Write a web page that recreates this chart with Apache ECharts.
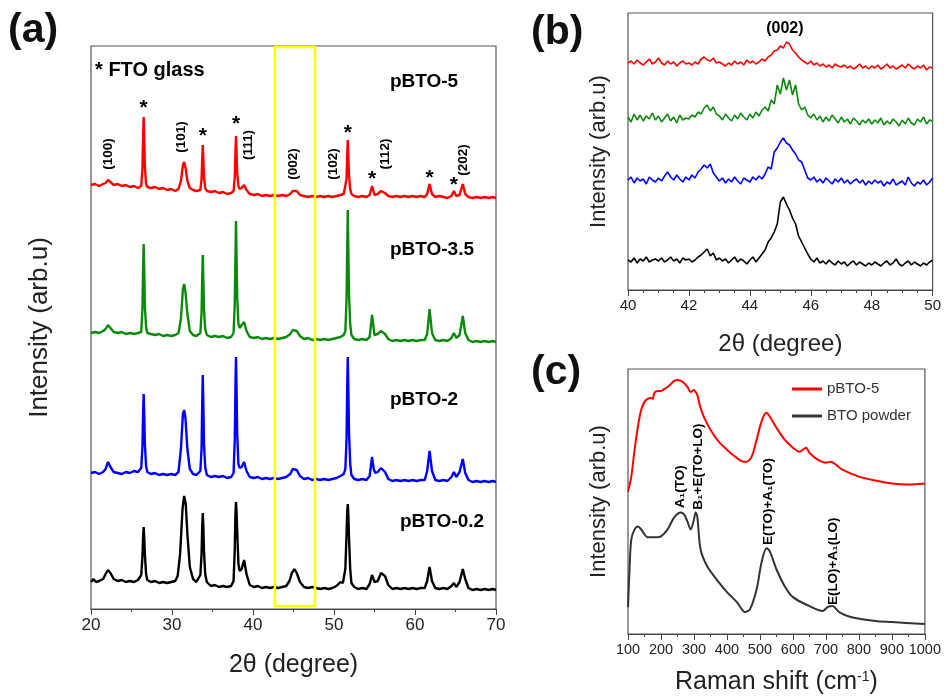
<!DOCTYPE html>
<html><head><meta charset="utf-8">
<script src="https://cdn.jsdelivr.net/npm/echarts/dist/echarts.min.js"></script>
<style>html,body{margin:0;padding:0;background:#fff}#c{width:944px;height:696px}</style>
</head><body><div id="c"></div><script>
// ---------- Panel (a): XRD patterns (offset stacked, arb. units) ----------
const xrdRed = [[20,424],[20.5,425],[21,423],[21.5,425],[21.8,426],[22.1,429],[22.4,427],[22.8,424],[23.3,425],[23.8,423],[24.3,424],[24.8,422],[25.3,423],[25.8,421],
[26.2,423],[26.35,440],[26.43,471],[26.5,492],[26.57,471],[26.65,442],[26.8,425],[26.95,422],
[27.4,421],[27.9,422],[28.4,420],[28.9,421],[29.4,419],[29.9,420],[30.4,418],[30.8,420],[31.1,428],[31.35,444],[31.5,447],[31.7,440],[31.9,428],[32.2,421],[32.6,419],[33.0,418],
[33.5,419],[33.65,430],[33.73,450],[33.8,464],[33.87,450],[33.95,432],[34.1,421],[34.3,418],
[34.8,417],[35.3,418],[35.8,416],[36.3,417],[36.8,415],[37.3,416],
[37.6,418],[37.75,432],[37.83,456],[37.9,473],[37.97,456],[38.05,436],[38.2,423],[38.35,420],
[38.6,421],[38.9,424],[39.2,419],[39.6,415],[40.1,414],[40.6,415],[41.1,413],[41.6,414],[42.1,413],[42.6,414],[43.1,413],[43.6,414],[44.1,413],[44.6,415],[44.9,418],[45.1,420],[45.4,418],[45.8,414],[46.3,413],[46.8,412],[47.3,413],[47.8,412],[48.3,413],[48.8,412],[49.3,413],[49.8,412],[50.3,413],[50.8,414],[51.2,415],
[51.4,416],[51.55,430],[51.63,452],[51.7,469],[51.77,452],[51.85,434],[52.0,420],[52.15,415],
[52.5,413],[53.0,412],[53.5,413],[54.0,412],[54.4,414],[54.7,423],[55.0,414],[55.4,415],[55.8,418],[56.0,419],[56.3,416],[56.7,413],[57.2,412],[57.7,413],[58.2,412],[58.7,413],[59.2,412],[59.7,413],[60.2,412],[60.7,413],[61.2,412],[61.5,415],[61.8,425],[62.1,415],[62.5,412],[63,413],[63.5,412],[64,411],[64.5,413],[64.8,418],[65.1,413],[65.5,414],[65.9,425],[66.2,415],[66.6,412],[67.1,411],[67.6,412],[68.1,411],[68.6,412],[69.1,411],[69.6,412],[70,411]];
const xrdGreen = [[20,276],[20.5,277],[21,276],[21.5,278],[21.8,280],[22.1,284],[22.4,281],[22.8,277],[23.3,276],[23.8,277],[24.3,275],[24.8,276],[25.3,275],[25.8,276],
[26.2,277],[26.35,300],[26.43,340],[26.5,365],[26.57,340],[26.65,303],[26.8,282],[26.95,276],
[27.4,275],[27.9,274],[28.4,275],[28.9,273],[29.4,274],[29.9,273],[30.4,274],[30.8,276],[31.1,290],[31.35,320],[31.5,325],[31.65,318],[31.9,295],[32.2,278],[32.6,274],[33.0,273],
[33.5,276],[33.65,296],[33.73,330],[33.8,354],[33.87,330],[33.95,300],[34.1,280],[34.3,274],
[34.8,272],[35.3,273],[35.8,272],[36.3,273],[36.8,271],[37.3,272],
[37.6,276],[37.75,305],[37.83,352],[37.9,388],[37.97,352],[38.05,312],[38.2,285],[38.35,281],
[38.6,284],[38.9,287],[39.2,278],[39.6,272],[40.1,271],[40.6,272],[41.1,270],[41.6,271],[42.1,270],[42.6,271],[43.1,270],[43.6,271],[44.1,272],[44.6,275],[44.9,279],[45.1,281],[45.4,278],[45.8,273],[46.3,270],[46.8,271],[47.3,269],[47.8,270],[48.3,269],[48.8,270],[49.3,269],[49.8,270],[50.3,271],[50.8,272],[51.2,274],
[51.4,278],[51.55,310],[51.63,360],[51.7,399],[51.77,360],[51.85,315],[52.0,285],[52.15,274],
[52.5,270],[53.0,269],[53.5,270],[54.0,269],[54.4,272],[54.7,294],[55.0,274],[55.4,275],[55.8,278],[56.0,279],[56.3,275],[56.7,270],[57.2,268],[57.7,269],[58.2,268],[58.7,269],[59.2,268],[59.7,269],[60.2,268],[60.7,269],[61.2,269],[61.5,275],[61.8,300],[62.1,276],[62.5,269],[63,268],[63.5,269],[64,268],[64.5,271],[64.8,276],[65.1,271],[65.5,274],[65.9,293],[66.2,276],[66.6,269],[67.1,267],[67.6,268],[68.1,267],[68.6,268],[69.1,267],[69.6,268],[70,267]];
const xrdBlue = [[20,136],[20.5,137],[21,135],[21.5,137],[21.8,140],[22.1,147],[22.4,142],[22.8,137],[23.3,136],[23.8,135],[24.3,137],[24.8,136],[25.3,138],[25.8,137],
[26.2,141],[26.35,162],[26.43,195],[26.5,215],[26.57,195],[26.65,165],[26.8,143],[26.95,137],
[27.4,135],[27.9,136],[28.4,134],[28.9,135],[29.4,134],[29.9,135],[30.4,134],[30.8,137],[31.1,160],[31.35,195],[31.5,199],[31.65,192],[31.9,160],[32.2,140],[32.6,135],[33.0,134],
[33.5,138],[33.65,160],[33.73,205],[33.8,234],[33.87,205],[33.95,165],[34.1,142],[34.3,134],
[34.8,132],[35.3,133],[35.8,132],[36.3,133],[36.8,131],[37.3,132],
[37.6,136],[37.75,170],[37.83,220],[37.9,252],[37.97,220],[38.05,175],[38.2,145],[38.35,141],
[38.6,142],[38.9,147],[39.2,138],[39.6,132],[40.1,131],[40.6,132],[41.1,130],[41.6,131],[42.1,130],[42.6,131],[43.1,130],[43.6,131],[44.1,132],[44.6,135],[44.9,140],[45.1,142],[45.4,139],[45.8,133],[46.3,130],[46.8,131],[47.3,129],[47.8,130],[48.3,129],[48.8,130],[49.3,129],[49.8,130],[50.3,131],[50.8,133],[51.2,135],
[51.4,140],[51.55,170],[51.63,220],[51.7,252],[51.77,220],[51.85,178],[52.0,145],[52.15,134],
[52.5,130],[53.0,129],[53.5,130],[54.0,129],[54.4,133],[54.7,152],[54.9,140],[55.1,136],[55.4,137],[55.8,141],[56.0,142],[56.3,137],[56.7,130],[57.2,128],[57.7,129],[58.2,128],[58.7,129],[59.2,128],[59.7,129],[60.2,128],[60.7,129],[61.2,129],[61.5,138],[61.8,158],[62.1,138],[62.5,129],[63,128],[63.5,129],[64,128],[64.5,132],[64.8,137],[65.1,132],[65.5,137],[65.9,150],[66.2,136],[66.6,129],[67.1,127],[67.6,128],[68.1,127],[68.6,128],[69.1,127],[69.6,128],[70,127]];
const xrdBlack = [[20,27],[20.3,30],[20.6,27],[21,28],[21.5,30],[21.8,35],[22.1,39],[22.4,36],[22.8,30],[23.3,28],[23.8,29],[24.3,27],[24.8,28],[25.3,27],[25.8,29],
[26.2,34],[26.35,52],[26.43,72],[26.5,82],[26.57,72],[26.65,55],[26.8,35],[26.95,29],
[27.4,27],[27.9,28],[28.4,26],[28.9,27],[29.4,26],[29.9,27],[30.4,28],[30.7,33],[31.0,55],[31.3,100],[31.5,113],[31.7,105],[31.9,75],[32.2,42],[32.6,30],[33.0,27],
[33.5,34],[33.65,55],[33.73,82],[33.8,96],[33.87,82],[33.95,58],[34.1,35],[34.3,27],
[34.8,23],[35.3,24],[35.8,22],[36.3,23],[36.8,22],[37.3,23],
[37.6,28],[37.75,60],[37.83,95],[37.9,107],[37.97,98],[38.05,78],[38.2,45],[38.35,38],
[38.6,40],[38.9,49],[39.2,35],[39.6,24],[40.1,22],[40.6,23],[41.1,21],[41.6,22],[42.1,21],[42.6,22],[43.1,21],[43.6,22],[44.1,23],[44.5,28],[44.8,36],[45.1,40],[45.4,36],[45.8,27],[46.3,22],[46.8,21],[47.3,22],[47.8,21],[48.3,20],[48.8,21],[49.3,20],[49.8,21],[50.3,23],[50.8,27],[51.1,26],
[51.4,40],[51.55,75],[51.63,97],[51.7,105],[51.77,95],[51.85,72],[52.0,40],[52.15,26],
[52.5,22],[53.0,20],[53.5,21],[54.0,20],[54.4,25],[54.7,34],[55.0,27],[55.4,28],[55.8,36],[56.0,38],[56.3,33],[56.7,24],[57.2,20],[57.7,21],[58.2,20],[58.7,21],[59.2,20],[59.7,21],[60.2,20],[60.7,21],[61.2,21],[61.5,28],[61.8,42],[62.1,28],[62.5,21],[63,20],[63.5,21],[64,20],[64.5,23],[64.8,26],[65.1,22],[65.5,27],[65.9,40],[66.2,30],[66.6,21],[67.1,19],[67.6,20],[68.1,19],[68.6,20],[69.1,19],[69.6,20],[70,19]];
const zoomBox = [42.7, 47.65];
const starPeaks = [[26.5,507],[33.8,479],[37.9,491],[51.7,482],[54.7,436],[61.8,437],[64.8,430]];
const millerLabels = [['(100)',22.1,455],['(101)',31.2,472],['(111)',39.4,464],['(002)',44.95,445],['(102)',49.9,445],['(112)',56.3,455],['(202)',65.9,449]];
const sampleLabels = [['pBTO-5',56.9,527],['pBTO-3.5',56.9,359],['pBTO-2',56.9,209],['pBTO-0.2',58.15,87]];
const noteLabel = [['* FTO glass',20.5,539]];

// ---------- Panel (b): (002) region, sampled every 0.1 degree from 40 to 50 ----------
const zoomStart = 40, zoomStep = 0.1;
const zRed = [227,229,226,230,227,225,228,231,226,228, 232,227,225,229,226,228,224,227,229,226, 227,225,228,226,231,233,230,229,232,227, 228,226,224,227,225,229,226,228,225,230, 227,229,226,228,231,229,233,235,239,240, 244,242,248,246,240,237,233,230,228,226, 229,225,227,224,226,223,225,222,226,224, 223,225,222,224,221,223,226,222,224,221, 224,222,225,221,223,226,222,224,221,223, 225,222,226,223,221,224,222,225,220,223, 222];
const zGreen = [173,168,176,170,175,169,174,171,177,170, 174,168,172,176,169,173,167,175,170,172, 171,175,173,178,176,182,185,179,183,176, 174,170,176,172,169,175,171,177,173,170, 176,172,178,174,180,183,179,190,186,205, 196,212,200,210,195,205,186,180,183,175, 172,176,170,174,168,173,169,175,171,167, 173,168,171,166,172,169,165,170,167,171, 166,170,167,172,165,169,166,171,168,164, 170,166,172,167,165,171,168,173,166,170, 169];
const zBlue = [110,113,107,112,109,111,106,113,110,108, 112,109,114,118,113,110,115,111,108,113, 110,115,112,118,121,125,122,126,117,113, 109,112,107,111,108,113,109,106,112,110, 108,113,110,114,111,116,123,121,138,142, 148,152,147,145,140,136,130,128,120,112, 110,113,108,111,107,112,109,106,111,108, 112,107,110,106,109,111,107,110,105,109, 106,110,107,109,104,108,106,111,105,107, 109,105,113,107,104,108,106,110,105,108, 112];
const zBlack = [30,28,32,27,31,29,33,28,30,31, 29,32,28,30,33,29,31,27,32,30, 31,28,30,33,35,38,41,34,37,30, 32,29,31,27,30,33,28,31,29,26, 30,33,28,32,36,40,48,52,58,66, 88,93,86,80,72,66,54,48,42,36, 31,28,32,27,29,26,30,27,25,29, 26,28,24,27,29,25,28,26,24,27, 25,28,26,24,27,29,25,27,31,26, 24,27,29,25,28,26,24,27,25,28, 30];
const peakLabelB = [['(002)',45.15,261]];

// ---------- Panel (c): Raman spectra ----------
const ramanPBTO5 = [[100,143],[110,158],[120,185],[130,208],[140,225],[150,233],[160,236],[170,237],[175,236],[180,242],[190,244],[200,244],[210,246],[220,248],[230,251],[240,254],[250,255],[260,254],[270,252],[280,248],[290,243],[300,245],[305,243],[310,240],[320,227],[330,218],[350,205],[375,193],[400,185],[425,178],[450,173],[460,173],[475,178],[490,195],[500,208],[510,218],[520,222],[530,218],[550,207],[575,195],[600,187],[620,183],[630,185],[640,187],[650,182],[675,175],[700,172],[715,173],[730,170],[750,165],[800,158],[850,154],[900,151],[950,150],[1000,151]];
const ramanBTO = [[100,27],[105,68],[110,95],[120,105],[130,108],[140,105],[150,100],[160,97],[180,97],[200,98],[220,105],[240,117],[260,122],[270,120],[280,113],[290,105],[300,115],[305,122],[310,118],[320,85],[340,68],[375,52],[400,42],[430,32],[455,22],[470,25],[490,45],[505,72],[520,86],[530,83],[550,65],[575,48],[600,37],[650,28],[690,23],[705,27],[720,28],[740,22],[775,17],[850,13],[900,12],[1000,10]];
const modeLabels = [['A\u2081(TO)',260,148],['B\u2081+E(TO+LO)',312,168],['E(TO)+A\u2081(TO)',524,133],['E(LO)+A\u2081(LO)',721,73]];

const FONT = '"Liberation Sans", Arial, sans-serif';
const chart = echarts.init(document.getElementById('c'), null, {renderer:'canvas'});

function xAxisCommon(min, max, interval, minorSplit, fs) {
  return {
    type:'value', min, max, interval,
    axisLine:{show:true, lineStyle:{color:'#444', width:1.2}},
    axisTick:{show:true, length:6, lineStyle:{color:'#444'}},
    minorTick:{show:true, splitNumber:minorSplit, length:3, lineStyle:{color:'#444'}},
    splitLine:{show:false},
    axisLabel:{color:'#222', fontSize:fs, fontFamily:FONT, margin:8, formatter:v => String(v)},
    nameLocation:'middle', nameTextStyle:{color:'#222', fontFamily:FONT}
  };
}
function yAxisHidden(max, gi, name, fs, gap) {
  return {type:'value', gridIndex:gi, min:0, max, show:true,
    axisLine:{show:false}, axisTick:{show:false}, axisLabel:{show:false}, splitLine:{show:false},
    name, nameLocation:'middle', nameGap:gap, nameRotate:90,
    nameTextStyle:{color:'#222', fontSize:fs, fontFamily:FONT}};
}
function textSeries(xi, yi, items, label) {
  return {type:'scatter', xAxisIndex:xi, yAxisIndex:yi, symbolSize:0, silent:true, z:20,
    itemStyle:{color:'#000'},
    data: items.map(d => ({name:d[0], value:[d[1], d[2]]})),
    label: Object.assign({show:true, formatter:p => p.name, color:'#000', opacity:1, fontFamily:FONT}, label)};
}

const xa = xAxisCommon(20, 70, 10, 2, 17); xa.gridIndex = 0; xa.name = '2\u03B8 (degree)'; xa.nameGap = 44; xa.nameTextStyle.fontSize = 25;
const xb = xAxisCommon(40, 50, 2, 4, 15); xb.gridIndex = 1; xb.name = '2\u03B8 (degree)'; xb.nameGap = 42; xb.nameTextStyle.fontSize = 24;
const xc = xAxisCommon(100, 1000, 100, 2, 14.5); xc.gridIndex = 2; xc.name = 'Raman shift (cm{sup|-1})'; xc.nameGap = 36;
xc.nameTextStyle = {color:'#222', fontFamily:FONT, fontSize:25, rich:{sup:{fontSize:14, fontFamily:FONT, color:'#222', verticalAlign:'top', lineHeight:25}}};

const zip = arr => arr.map((v, i) => [zoomStart + i*zoomStep, v]);

chart.setOption({
  animation:false,
  backgroundColor:'#fff',
  textStyle:{fontFamily:FONT},
  grid:[
    {left:91, top:46, width:405, height:563, show:true, borderColor:'#555', borderWidth:1.2},
    {left:628, top:13, width:309, height:277, show:true, borderColor:'#555', borderWidth:1.2},
    {left:628, top:369, width:297, height:266, show:true, borderColor:'#555', borderWidth:1.2}
  ],
  xAxis:[xa, xb, xc],
  yAxis:[
    yAxisHidden(563, 0, 'Intensity (arb.u)', 26, 38),
    yAxisHidden(277, 1, 'Intensity (arb.u)', 22, 18),
    yAxisHidden(266, 2, 'Intensity (arb.u)', 22, 18)
  ],
  legend:{
    data:['pBTO-5','BTO powder'], orient:'vertical', left:787, top:375,
    icon:'rect', itemWidth:30, itemHeight:3, itemGap:9,
    textStyle:{fontSize:15, color:'#333', fontFamily:FONT, lineHeight:18}
  },
  graphic:[
    {type:'text', left:8, top:10, style:{text:'(a)', font:'bold 41px '+FONT, fill:'#111'}},
    {type:'text', left:531, top:12, style:{text:'(b)', font:'bold 41px '+FONT, fill:'#111'}},
    {type:'text', left:531, top:352, style:{text:'(c)', font:'bold 41px '+FONT, fill:'#111'}}
  ],
  series:[
    {name:'a-black', type:'line', xAxisIndex:0, yAxisIndex:0, data:xrdBlack, showSymbol:false, lineStyle:{color:'#000', width:2.4}, silent:true},
    {name:'a-blue', type:'line', xAxisIndex:0, yAxisIndex:0, data:xrdBlue, showSymbol:false, lineStyle:{color:'#0000ff', width:2.4}, silent:true},
    {name:'a-green', type:'line', xAxisIndex:0, yAxisIndex:0, data:xrdGreen, showSymbol:false, lineStyle:{color:'#0a8a0a', width:2.4}, silent:true},
    {name:'a-red', type:'line', xAxisIndex:0, yAxisIndex:0, data:xrdRed, showSymbol:false, lineStyle:{color:'#ff0000', width:2.4}, silent:true, z:5,
      markArea:{silent:true, z:10, itemStyle:{color:'rgba(0,0,0,0)', borderColor:'#ffff00', borderWidth:2.5},
        data:[[{xAxis:zoomBox[0], yAxis:3},{xAxis:zoomBox[1], yAxis:562}]]}},
    textSeries(0, 0, starPeaks.map(p => ['*', p[0], p[1]]), {position:'inside', fontSize:21, fontWeight:'bold', offset:[0,6]}),
    textSeries(0, 0, millerLabels, {position:'inside', rotate:90, fontSize:13.5, fontWeight:'bold'}),
    textSeries(0, 0, sampleLabels, {position:'right', distance:0, fontSize:19, fontWeight:'bold'}),
    textSeries(0, 0, noteLabel, {position:'right', distance:0, fontSize:20, fontWeight:'bold'}),

    {name:'b-black', type:'line', xAxisIndex:1, yAxisIndex:1, data:zip(zBlack), showSymbol:false, lineStyle:{color:'#000', width:1.6}, silent:true},
    {name:'b-blue', type:'line', xAxisIndex:1, yAxisIndex:1, data:zip(zBlue), showSymbol:false, lineStyle:{color:'#0000ff', width:1.6}, silent:true},
    {name:'b-green', type:'line', xAxisIndex:1, yAxisIndex:1, data:zip(zGreen), showSymbol:false, lineStyle:{color:'#0a8a0a', width:1.6}, silent:true},
    {name:'b-red', type:'line', xAxisIndex:1, yAxisIndex:1, data:zip(zRed), showSymbol:false, lineStyle:{color:'#ff0000', width:1.6}, silent:true},
    textSeries(1, 1, peakLabelB, {position:'inside', fontSize:16, fontWeight:'bold'}),

    {name:'pBTO-5', type:'line', xAxisIndex:2, yAxisIndex:2, data:ramanPBTO5, symbol:'none', smooth:0.3, lineStyle:{color:'#ff0000', width:2}, itemStyle:{color:'#ff0000'}, silent:true},
    {name:'BTO powder', type:'line', xAxisIndex:2, yAxisIndex:2, data:ramanBTO, symbol:'none', smooth:0.3, lineStyle:{color:'#333', width:2}, itemStyle:{color:'#333'}, silent:true},
    textSeries(2, 2, modeLabels, {position:'inside', rotate:90, fontSize:13.5, fontWeight:'bold'})
  ]
});
</script></body></html>
